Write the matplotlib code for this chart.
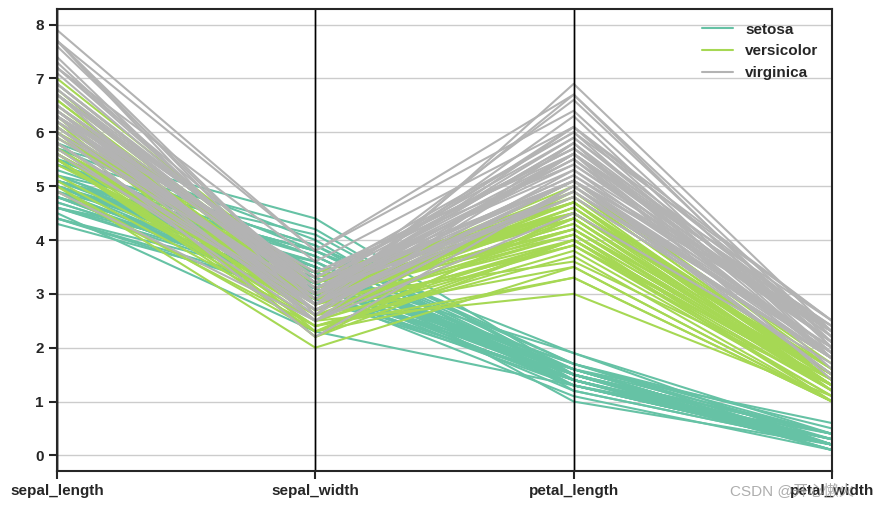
import matplotlib
matplotlib.use('Agg')
import matplotlib.pyplot as plt
import seaborn as sns
import pandas as pd
from pandas.plotting import parallel_coordinates

columns = ['sepal_length', 'sepal_width', 'petal_length', 'petal_width']
species_names = ['setosa', 'versicolor', 'virginica']

setosa_sepal_length = [5.1, 4.9, 4.7, 4.6, 5.0, 5.4, 4.6, 5.0, 4.4, 4.9, 5.4, 4.8, 4.8, 4.3, 5.8, 5.7, 5.4, 5.1, 5.7, 5.1,
                       5.4, 5.1, 4.6, 5.1, 4.8, 5.0, 5.0, 5.2, 5.2, 4.7, 4.8, 5.4, 5.2, 5.5, 4.9, 5.0, 5.5, 4.9, 4.4, 5.1,
                       5.0, 4.5, 4.4, 5.0, 5.1, 4.8, 5.1, 4.6, 5.3, 5.0]
setosa_sepal_width = [3.5, 3.0, 3.2, 3.1, 3.6, 3.9, 3.4, 3.4, 2.9, 3.1, 3.7, 3.4, 3.0, 3.0, 4.0, 4.4, 3.9, 3.5, 3.8, 3.8,
                      3.4, 3.7, 3.6, 3.3, 3.4, 3.0, 3.4, 3.5, 3.4, 3.2, 3.1, 3.4, 4.1, 4.2, 3.1, 3.2, 3.5, 3.6, 3.0, 3.4,
                      3.5, 2.3, 3.2, 3.5, 3.8, 3.0, 3.8, 3.2, 3.7, 3.3]
setosa_petal_length = [1.4, 1.4, 1.3, 1.5, 1.4, 1.7, 1.4, 1.5, 1.4, 1.5, 1.5, 1.6, 1.4, 1.1, 1.2, 1.5, 1.3, 1.4, 1.7, 1.5,
                       1.7, 1.5, 1.0, 1.7, 1.9, 1.6, 1.6, 1.5, 1.4, 1.6, 1.6, 1.5, 1.5, 1.4, 1.5, 1.2, 1.3, 1.4, 1.3, 1.5,
                       1.3, 1.3, 1.3, 1.6, 1.9, 1.4, 1.6, 1.4, 1.5, 1.4]
setosa_petal_width = [0.2, 0.2, 0.2, 0.2, 0.2, 0.4, 0.3, 0.2, 0.2, 0.1, 0.2, 0.2, 0.1, 0.1, 0.2, 0.4, 0.4, 0.3, 0.3, 0.3,
                      0.2, 0.4, 0.2, 0.5, 0.2, 0.2, 0.4, 0.2, 0.2, 0.2, 0.2, 0.4, 0.1, 0.2, 0.2, 0.2, 0.2, 0.1, 0.2, 0.2,
                      0.3, 0.3, 0.2, 0.6, 0.4, 0.3, 0.2, 0.2, 0.2, 0.2]

versicolor_sepal_length = [7.0, 6.4, 6.9, 5.5, 6.5, 5.7, 6.3, 4.9, 6.6, 5.2, 5.0, 5.9, 6.0, 6.1, 5.6, 6.7, 5.6, 5.8, 6.2, 5.6,
                           5.9, 6.1, 6.3, 6.1, 6.4, 6.6, 6.8, 6.7, 6.0, 5.7, 5.5, 5.5, 5.8, 6.0, 5.4, 6.0, 6.7, 6.3, 5.6, 5.5,
                           5.5, 6.1, 5.8, 5.0, 5.6, 5.7, 5.7, 6.2, 5.1, 5.7]
versicolor_sepal_width = [3.2, 3.2, 3.1, 2.3, 2.8, 2.8, 3.3, 2.4, 2.9, 2.7, 2.0, 3.0, 2.2, 2.9, 2.9, 3.1, 3.0, 2.7, 2.2, 2.5,
                          3.2, 2.8, 2.5, 2.8, 2.9, 3.0, 2.8, 3.0, 2.9, 2.6, 2.4, 2.4, 2.7, 2.7, 3.0, 3.4, 3.1, 2.3, 3.0, 2.5,
                          2.6, 3.0, 2.6, 2.3, 2.7, 3.0, 2.9, 2.9, 2.5, 2.8]
versicolor_petal_length = [4.7, 4.5, 4.9, 4.0, 4.6, 4.5, 4.7, 3.3, 4.6, 3.9, 3.5, 4.2, 4.0, 4.7, 3.6, 4.4, 4.5, 4.1, 4.5, 3.9,
                           4.8, 4.0, 4.9, 4.7, 4.3, 4.4, 4.8, 5.0, 4.5, 3.5, 3.8, 3.7, 3.9, 5.1, 4.5, 4.5, 4.7, 4.4, 4.1, 4.0,
                           4.4, 4.6, 4.0, 3.3, 4.2, 4.2, 4.2, 4.3, 3.0, 4.1]
versicolor_petal_width = [1.4, 1.5, 1.5, 1.3, 1.5, 1.3, 1.6, 1.0, 1.3, 1.4, 1.0, 1.5, 1.0, 1.4, 1.3, 1.4, 1.5, 1.0, 1.5, 1.1,
                          1.8, 1.3, 1.5, 1.2, 1.3, 1.4, 1.4, 1.7, 1.5, 1.0, 1.1, 1.0, 1.2, 1.6, 1.5, 1.6, 1.5, 1.3, 1.3, 1.3,
                          1.2, 1.4, 1.2, 1.0, 1.3, 1.2, 1.3, 1.3, 1.1, 1.3]

virginica_sepal_length = [6.3, 5.8, 7.1, 6.3, 6.5, 7.6, 4.9, 7.3, 6.7, 7.2, 6.5, 6.4, 6.8, 5.7, 5.8, 6.4, 6.5, 7.7, 7.7, 6.0,
                          6.9, 5.6, 7.7, 6.3, 6.7, 7.2, 6.2, 6.1, 6.4, 7.2, 7.4, 7.9, 6.4, 6.3, 6.1, 7.7, 6.3, 6.4, 6.0, 6.9,
                          6.7, 6.9, 5.8, 6.8, 6.7, 6.7, 6.3, 6.5, 6.2, 5.9]
virginica_sepal_width = [3.3, 2.7, 3.0, 2.9, 3.0, 3.0, 2.5, 2.9, 2.5, 3.6, 3.2, 2.7, 3.0, 2.5, 2.8, 3.2, 3.0, 3.8, 2.6, 2.2,
                         3.2, 2.8, 2.8, 2.7, 3.3, 3.2, 2.8, 3.0, 2.8, 3.0, 2.8, 3.8, 2.8, 2.8, 2.6, 3.0, 3.4, 3.1, 3.0, 3.1,
                         3.1, 3.1, 2.7, 3.2, 3.3, 3.0, 2.5, 3.0, 3.4, 3.0]
virginica_petal_length = [6.0, 5.1, 5.9, 5.6, 5.8, 6.6, 4.5, 6.3, 5.8, 6.1, 5.1, 5.3, 5.5, 5.0, 5.1, 5.3, 5.5, 6.7, 6.9, 5.0,
                          5.7, 4.9, 6.7, 4.9, 5.7, 6.0, 4.8, 4.9, 5.6, 5.8, 6.1, 6.4, 5.6, 5.1, 5.6, 6.1, 5.6, 5.5, 4.8, 5.4,
                          5.6, 5.1, 5.1, 5.9, 5.7, 5.2, 5.0, 5.2, 5.4, 5.1]
virginica_petal_width = [2.5, 1.9, 2.1, 1.8, 2.2, 2.1, 1.7, 1.8, 1.8, 2.5, 2.0, 1.9, 2.1, 2.0, 2.4, 2.3, 1.8, 2.2, 2.3, 1.5,
                         2.3, 2.0, 2.0, 1.8, 2.1, 1.8, 1.8, 1.8, 2.1, 1.6, 1.9, 2.0, 2.2, 1.5, 1.4, 2.3, 2.4, 1.8, 1.8, 2.1,
                         2.4, 2.3, 1.9, 2.3, 2.5, 2.3, 1.9, 2.0, 2.3, 1.8]

def species_frame(name, sl, sw, pl, pw):
  d = pd.DataFrame({'sepal_length': sl, 'sepal_width': sw, 'petal_length': pl, 'petal_width': pw})
  d['species'] = name
  return d

df = pd.concat([
  species_frame('setosa', setosa_sepal_length, setosa_sepal_width, setosa_petal_length, setosa_petal_width),
  species_frame('versicolor', versicolor_sepal_length, versicolor_sepal_width, versicolor_petal_length, versicolor_petal_width),
  species_frame('virginica', virginica_sepal_length, virginica_sepal_width, virginica_petal_length, virginica_petal_width),
], ignore_index=True)

sns.set_style('ticks')
plt.rcParams['font.family'] = ['Liberation Sans', 'Noto Sans CJK SC', 'DejaVu Sans']
plt.rcParams['font.weight'] = 'bold'
plt.rcParams['font.size'] = 11
plt.rcParams['axes.linewidth'] = 1.5
plt.rcParams['xtick.major.width'] = 1.5
plt.rcParams['ytick.major.width'] = 1.5
plt.rcParams['xtick.major.size'] = 6
plt.rcParams['ytick.major.size'] = 6
plt.rcParams['grid.color'] = '#cccccc'

fig = plt.figure(figsize=(8.84, 5.09), dpi=100)
ax = fig.add_axes([57/884., 38/509., 775/884., 462/509.])
parallel_coordinates(df, 'species', cols=columns, colormap='Set2', ax=ax, linewidth=1.5)
ax.grid(False)
ax.yaxis.grid(True, color='#cccccc', linewidth=1.0)
for i in range(len(columns)):
  ax.axvline(i, color='black', linewidth=1.0)
ax.legend(loc='upper right', frameon=False, prop={'weight': 'bold', 'size': 11})
ax.tick_params(labelsize=11)
for lbl in ax.get_xticklabels() + ax.get_yticklabels():
  lbl.set_fontweight('bold')

fig.text(0.826, 0.028, 'CSDN @开心懒火', color='#999999', fontsize=11, fontweight='normal', alpha=0.8)

plt.savefig('out.png', dpi=100)
